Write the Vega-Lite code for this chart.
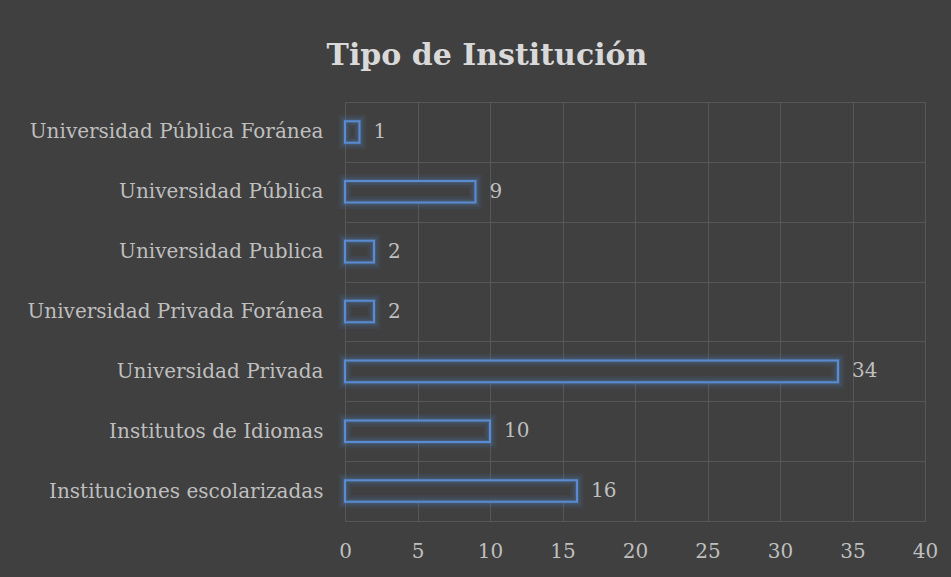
{
  "$schema": "https://vega.github.io/schema/vega-lite/v6.json",
  "autosize": "none",
  "width": 580,
  "height": 419,
  "padding": {"left": 345, "top": 102, "right": 26, "bottom": 56},
  "background": "#404040",
  "config": {
    "view": {"stroke": "#575757", "strokeWidth": 1},
    "font": "DejaVu Serif"
  },
  "title": {
    "text": "Tipo de Institución",
    "font": "DejaVu Serif",
    "fontSize": 30,
    "fontWeight": "bold",
    "color": "#d9d9d9",
    "anchor": "middle",
    "frame": "group",
    "dx": -148,
    "offset": 21
  },
  "data": {
    "values": [
      {"tipo": "Universidad Pública Foránea", "n": 1},
      {"tipo": "Universidad Pública", "n": 9},
      {"tipo": "Universidad Publica", "n": 2},
      {"tipo": "Universidad Privada Foránea", "n": 2},
      {"tipo": "Universidad Privada", "n": 34},
      {"tipo": "Institutos de Idiomas", "n": 10},
      {"tipo": "Instituciones escolarizadas", "n": 16}
    ]
  },
  "encoding": {
    "y": {
      "field": "tipo",
      "type": "nominal",
      "sort": null,
      "title": null,
      "scale": {"paddingInner": 0, "paddingOuter": 0},
      "axis": {
        "ticks": false,
        "domain": false,
        "grid": true,
        "tickBand": "extent",
        "gridColor": "#575757",
        "labelFont": "DejaVu Serif",
        "labelFontSize": 20,
        "labelColor": "#bfbfbf",
        "labelPadding": 22,
        "labelLimit": 400
      }
    },
    "x": {
      "field": "n",
      "type": "quantitative",
      "title": null,
      "scale": {"domain": [0, 40], "nice": false},
      "axis": {
        "values": [0, 5, 10, 15, 20, 25, 30, 35, 40],
        "ticks": false,
        "domain": false,
        "grid": true,
        "gridColor": "#575757",
        "labelFont": "DejaVu Serif",
        "labelFontSize": 20,
        "labelColor": "#bfbfbf",
        "labelPadding": 20,
        "labelFlush": false
      }
    }
  },
  "layer": [
    {"mark": {"type": "bar", "height": {"band": 0.36}, "fill": "#404040", "strokeWidth": 0}},
    {"mark": {"type": "bar", "height": {"band": 0.36}, "fill": null, "fillOpacity": 0, "stroke": "#4f81bd", "strokeWidth": 13, "strokeOpacity": 0.1}},
    {"mark": {"type": "bar", "height": {"band": 0.36}, "fill": null, "fillOpacity": 0, "stroke": "#4f81bd", "strokeWidth": 8, "strokeOpacity": 0.15}},
    {"mark": {"type": "bar", "height": {"band": 0.36}, "fill": null, "fillOpacity": 0, "stroke": "#4f81bd", "strokeWidth": 4, "strokeOpacity": 0.25}},
    {"mark": {"type": "bar", "height": {"band": 0.36}, "fill": null, "fillOpacity": 0, "stroke": "#5a8bd0", "strokeWidth": 2}},
    {
      "mark": {"type": "text", "align": "left", "baseline": "middle", "dx": 14, "fontSize": 20, "color": "#bfbfbf", "font": "DejaVu Serif"},
      "encoding": {"text": {"field": "n", "type": "quantitative"}}
    }
  ]
}
